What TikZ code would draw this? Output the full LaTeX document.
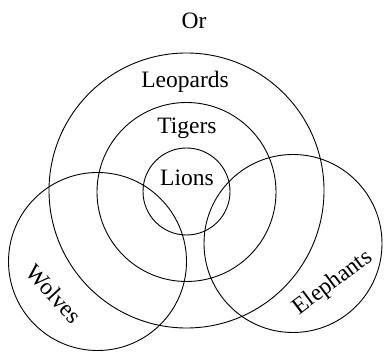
\documentclass[tikz,border=0pt]{standalone}
\usepackage{fontspec}
\setmainfont{Liberation Serif}
\begin{document}
\begin{tikzpicture}[x=1pt,y=-1pt,
  ring/.style={draw=black,line width=0.9pt},
  lbl/.style={font=\fontsize{23.5}{26}\selectfont,inner sep=0pt}]
\useasboundingbox (0,0) rectangle (385,352);
\draw[ring] (186.5,190.5) circle (137.5);
\draw[ring] (186.5,192) circle (89.5);
\draw[ring] (186.5,191.5) circle (43.5);
\draw[ring] (97.5,261.5) circle (89);
\draw[ring] (293,243.5) circle (89);
\node[lbl] (or) at (194,21) {Or};
\node[lbl] (leo) at (185,82) {Leopards};
\node[lbl] (tig) at (187,128) {Tigers};
\node[lbl] (lio) at (187,178) {Lions};
\node[lbl,rotate=-47] (wol) at (54,294) {Wolves};
\node[lbl,rotate=37] (ele) at (333,283) {Elephants};
\end{tikzpicture}
\end{document}
